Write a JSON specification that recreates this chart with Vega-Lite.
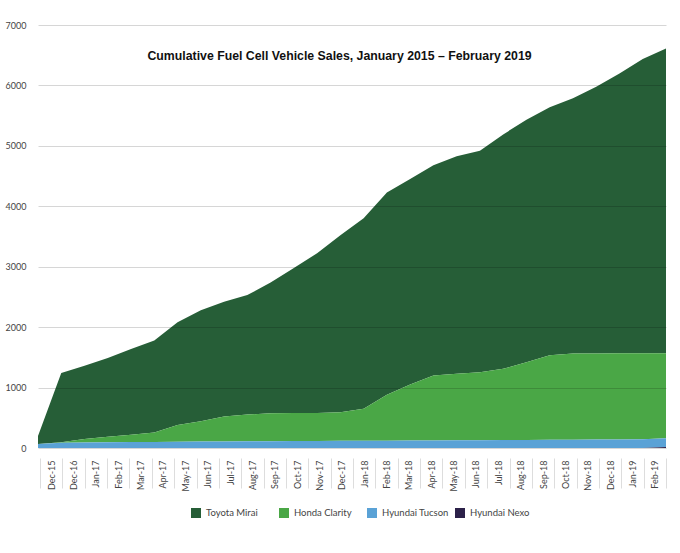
{
  "$schema": "https://vega.github.io/schema/vega-lite/v6.json",
  "width": 637,
  "height": 423,
  "padding": {"left": 5, "top": 21, "right": 13, "bottom": 5},
  "background": "white",
  "title": {
    "text": "Cumulative Fuel Cell Vehicle Sales, January 2015 – February 2019",
    "font": "Liberation Sans",
    "fontSize": 12.3,
    "fontWeight": "bold",
    "color": "#111111",
    "offset": -41,
    "dx": -9
  },
  "data": {
    "values": [
      {"month": "Dec-15", "series": "Toyota Mirai", "sales": 134},
      {"month": "Dec-15", "series": "Honda Clarity", "sales": 0},
      {"month": "Dec-15", "series": "Hyundai Tucson", "sales": 66},
      {"month": "Dec-15", "series": "Hyundai Nexo", "sales": 0},
      {"month": "Dec-16", "series": "Toyota Mirai", "sales": 1146},
      {"month": "Dec-16", "series": "Honda Clarity", "sales": 8},
      {"month": "Dec-16", "series": "Hyundai Tucson", "sales": 86},
      {"month": "Dec-16", "series": "Hyundai Nexo", "sales": 0},
      {"month": "Jan-17", "series": "Toyota Mirai", "sales": 1210},
      {"month": "Jan-17", "series": "Honda Clarity", "sales": 60},
      {"month": "Jan-17", "series": "Hyundai Tucson", "sales": 90},
      {"month": "Jan-17", "series": "Hyundai Nexo", "sales": 0},
      {"month": "Feb-17", "series": "Toyota Mirai", "sales": 1305},
      {"month": "Feb-17", "series": "Honda Clarity", "sales": 91},
      {"month": "Feb-17", "series": "Hyundai Tucson", "sales": 94},
      {"month": "Feb-17", "series": "Hyundai Nexo", "sales": 0},
      {"month": "Mar-17", "series": "Toyota Mirai", "sales": 1420},
      {"month": "Mar-17", "series": "Honda Clarity", "sales": 122},
      {"month": "Mar-17", "series": "Hyundai Tucson", "sales": 98},
      {"month": "Mar-17", "series": "Hyundai Nexo", "sales": 0},
      {"month": "Apr-17", "series": "Toyota Mirai", "sales": 1522},
      {"month": "Apr-17", "series": "Honda Clarity", "sales": 158},
      {"month": "Apr-17", "series": "Hyundai Tucson", "sales": 100},
      {"month": "Apr-17", "series": "Hyundai Nexo", "sales": 0},
      {"month": "May-17", "series": "Toyota Mirai", "sales": 1700},
      {"month": "May-17", "series": "Honda Clarity", "sales": 276},
      {"month": "May-17", "series": "Hyundai Tucson", "sales": 104},
      {"month": "May-17", "series": "Hyundai Nexo", "sales": 0},
      {"month": "Jun-17", "series": "Toyota Mirai", "sales": 1838},
      {"month": "Jun-17", "series": "Honda Clarity", "sales": 336},
      {"month": "Jun-17", "series": "Hyundai Tucson", "sales": 106},
      {"month": "Jun-17", "series": "Hyundai Nexo", "sales": 0},
      {"month": "Jul-17", "series": "Toyota Mirai", "sales": 1900},
      {"month": "Jul-17", "series": "Honda Clarity", "sales": 412},
      {"month": "Jul-17", "series": "Hyundai Tucson", "sales": 108},
      {"month": "Jul-17", "series": "Hyundai Nexo", "sales": 0},
      {"month": "Aug-17", "series": "Toyota Mirai", "sales": 1975},
      {"month": "Aug-17", "series": "Honda Clarity", "sales": 445},
      {"month": "Aug-17", "series": "Hyundai Tucson", "sales": 110},
      {"month": "Aug-17", "series": "Hyundai Nexo", "sales": 0},
      {"month": "Sep-17", "series": "Toyota Mirai", "sales": 2166},
      {"month": "Sep-17", "series": "Honda Clarity", "sales": 462},
      {"month": "Sep-17", "series": "Hyundai Tucson", "sales": 112},
      {"month": "Sep-17", "series": "Hyundai Nexo", "sales": 0},
      {"month": "Oct-17", "series": "Toyota Mirai", "sales": 2402},
      {"month": "Oct-17", "series": "Honda Clarity", "sales": 464},
      {"month": "Oct-17", "series": "Hyundai Tucson", "sales": 114},
      {"month": "Oct-17", "series": "Hyundai Nexo", "sales": 0},
      {"month": "Nov-17", "series": "Toyota Mirai", "sales": 2645},
      {"month": "Nov-17", "series": "Honda Clarity", "sales": 462},
      {"month": "Nov-17", "series": "Hyundai Tucson", "sales": 116},
      {"month": "Nov-17", "series": "Hyundai Nexo", "sales": 0},
      {"month": "Dec-17", "series": "Toyota Mirai", "sales": 2930},
      {"month": "Dec-17", "series": "Honda Clarity", "sales": 472},
      {"month": "Dec-17", "series": "Hyundai Tucson", "sales": 118},
      {"month": "Dec-17", "series": "Hyundai Nexo", "sales": 0},
      {"month": "Jan-18", "series": "Toyota Mirai", "sales": 3150},
      {"month": "Jan-18", "series": "Honda Clarity", "sales": 530},
      {"month": "Jan-18", "series": "Hyundai Tucson", "sales": 120},
      {"month": "Jan-18", "series": "Hyundai Nexo", "sales": 0},
      {"month": "Feb-18", "series": "Toyota Mirai", "sales": 3350},
      {"month": "Feb-18", "series": "Honda Clarity", "sales": 758},
      {"month": "Feb-18", "series": "Hyundai Tucson", "sales": 122},
      {"month": "Feb-18", "series": "Hyundai Nexo", "sales": 0},
      {"month": "Mar-18", "series": "Toyota Mirai", "sales": 3400},
      {"month": "Mar-18", "series": "Honda Clarity", "sales": 926},
      {"month": "Mar-18", "series": "Hyundai Tucson", "sales": 124},
      {"month": "Mar-18", "series": "Hyundai Nexo", "sales": 0},
      {"month": "Apr-18", "series": "Toyota Mirai", "sales": 3480},
      {"month": "Apr-18", "series": "Honda Clarity", "sales": 1074},
      {"month": "Apr-18", "series": "Hyundai Tucson", "sales": 126},
      {"month": "Apr-18", "series": "Hyundai Nexo", "sales": 0},
      {"month": "May-18", "series": "Toyota Mirai", "sales": 3600},
      {"month": "May-18", "series": "Honda Clarity", "sales": 1102},
      {"month": "May-18", "series": "Hyundai Tucson", "sales": 128},
      {"month": "May-18", "series": "Hyundai Nexo", "sales": 0},
      {"month": "Jun-18", "series": "Toyota Mirai", "sales": 3665},
      {"month": "Jun-18", "series": "Honda Clarity", "sales": 1125},
      {"month": "Jun-18", "series": "Hyundai Tucson", "sales": 130},
      {"month": "Jun-18", "series": "Hyundai Nexo", "sales": 0},
      {"month": "Jul-18", "series": "Toyota Mirai", "sales": 3880},
      {"month": "Jul-18", "series": "Honda Clarity", "sales": 1178},
      {"month": "Jul-18", "series": "Hyundai Tucson", "sales": 132},
      {"month": "Jul-18", "series": "Hyundai Nexo", "sales": 0},
      {"month": "Aug-18", "series": "Toyota Mirai", "sales": 4010},
      {"month": "Aug-18", "series": "Honda Clarity", "sales": 1286},
      {"month": "Aug-18", "series": "Hyundai Tucson", "sales": 134},
      {"month": "Aug-18", "series": "Hyundai Nexo", "sales": 0},
      {"month": "Sep-18", "series": "Toyota Mirai", "sales": 4105},
      {"month": "Sep-18", "series": "Honda Clarity", "sales": 1399},
      {"month": "Sep-18", "series": "Hyundai Tucson", "sales": 136},
      {"month": "Sep-18", "series": "Hyundai Nexo", "sales": 0},
      {"month": "Oct-18", "series": "Toyota Mirai", "sales": 4225},
      {"month": "Oct-18", "series": "Honda Clarity", "sales": 1425},
      {"month": "Oct-18", "series": "Hyundai Tucson", "sales": 138},
      {"month": "Oct-18", "series": "Hyundai Nexo", "sales": 0},
      {"month": "Nov-18", "series": "Toyota Mirai", "sales": 4412},
      {"month": "Nov-18", "series": "Honda Clarity", "sales": 1425},
      {"month": "Nov-18", "series": "Hyundai Tucson", "sales": 140},
      {"month": "Nov-18", "series": "Hyundai Nexo", "sales": 0},
      {"month": "Dec-18", "series": "Toyota Mirai", "sales": 4630},
      {"month": "Dec-18", "series": "Honda Clarity", "sales": 1425},
      {"month": "Dec-18", "series": "Hyundai Tucson", "sales": 142},
      {"month": "Dec-18", "series": "Hyundai Nexo", "sales": 0},
      {"month": "Jan-19", "series": "Toyota Mirai", "sales": 4868},
      {"month": "Jan-19", "series": "Honda Clarity", "sales": 1425},
      {"month": "Jan-19", "series": "Hyundai Tucson", "sales": 144},
      {"month": "Jan-19", "series": "Hyundai Nexo", "sales": 0},
      {"month": "Feb-19", "series": "Toyota Mirai", "sales": 5040},
      {"month": "Feb-19", "series": "Honda Clarity", "sales": 1410},
      {"month": "Feb-19", "series": "Hyundai Tucson", "sales": 145},
      {"month": "Feb-19", "series": "Hyundai Nexo", "sales": 15}
    ]
  },
  "layer": [
    {
      "transform": [
        {"calculate": "indexof(['Hyundai Nexo', 'Hyundai Tucson', 'Honda Clarity', 'Toyota Mirai'], datum.series)", "as": "stack_rank"}
      ],
      "mark": {"type": "area", "interpolate": "linear"},
      "encoding": {
        "x": {
          "field": "month",
          "type": "ordinal",
          "sort": null,
          "scale": {"type": "point", "padding": 0, "range": [8, 636]},
          "axis": null
        },
        "y": {
          "field": "sales",
          "type": "quantitative",
          "stack": "zero",
          "scale": {"domain": [0, 7000], "nice": false},
          "axis": {
            "title": null,
            "values": [0, 1000, 2000, 3000, 4000, 5000, 6000, 7000],
            "format": "d",
            "domain": false,
            "ticks": false,
            "labelPadding": 4,
            "labelFont": "Lato",
            "labelFontSize": 9,
            "labelColor": "#444444",
            "grid": true,
            "gridColor": "#000000",
            "gridOpacity": 0.16,
            "gridWidth": 1,
            "zindex": 1
          }
        },
        "color": {
          "field": "series",
          "type": "nominal",
          "sort": ["Toyota Mirai", "Honda Clarity", "Hyundai Tucson", "Hyundai Nexo"],
          "scale": {
            "domain": ["Toyota Mirai", "Honda Clarity", "Hyundai Tucson", "Hyundai Nexo"],
            "range": ["#265e37", "#4aa746", "#5aa2d6", "#2c2149"]
          },
          "legend": {
            "title": null,
            "orient": "none",
            "legendX": 160,
            "legendY": 482,
            "direction": "horizontal",
            "gridAlign": "all",
            "columnPadding": 5,
            "symbolType": "square",
            "symbolSize": 100,
            "symbolOpacity": 1,
            "labelFont": "Lato",
            "labelFontSize": 9.5,
            "labelColor": "#444444"
          }
        },
        "order": {"field": "stack_rank", "type": "quantitative"}
      }
    },
    {
      "mark": {"type": "point", "opacity": 0},
      "encoding": {
        "x": {
          "field": "month",
          "type": "ordinal",
          "sort": null,
          "scale": {"type": "band", "paddingInner": 0, "paddingOuter": 0, "range": [10, 636]},
          "axis": {
            "orient": "bottom",
            "title": null,
            "offset": 10,
            "domain": false,
            "ticks": true,
            "tickBand": "extent",
            "tickSize": 30,
            "tickColor": "#dddddd",
            "labelAngle": -90,
            "labelAlign": "right",
            "labelBaseline": "middle",
            "labelPadding": -28,
            "labelOverlap": false,
            "labelFont": "Lato",
            "labelFontSize": 9,
            "labelColor": "#444444",
            "grid": false
          }
        }
      }
    }
  ],
  "resolve": {"scale": {"x": "independent"}, "axis": {"x": "independent"}},
  "config": {
    "view": {"stroke": null}
  }
}
